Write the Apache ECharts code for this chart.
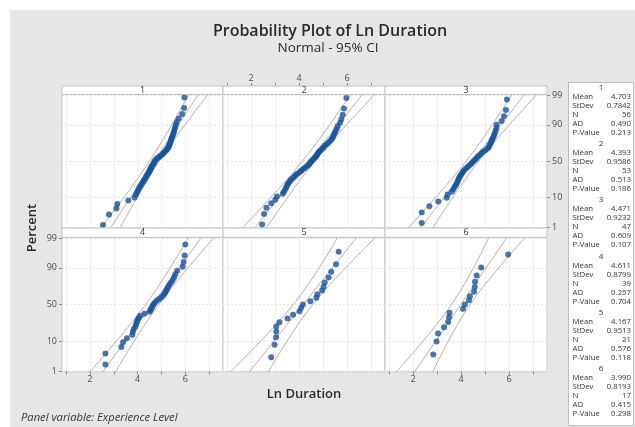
<!DOCTYPE html>
<html><head><meta charset="utf-8">
<script src="https://cdn.jsdelivr.net/npm/echarts@6/dist/echarts.min.js"></script>
<style>
html,body{margin:0;padding:0;background:#fff;}
#c{width:635px;height:427px;background:linear-gradient(#fff,#fff) 0 0/100% 10px no-repeat,linear-gradient(#fff,#fff) 0 0/10px 100% no-repeat,#e6e6e6;}
</style></head><body><div id="c"></div>
<script>
// ---- data ----
const panels = ['1','2','3','4','5','6'];
const means = [4.703, 4.393, 4.471, 4.611, 4.167, 3.990];
const stdevs = [0.7842, 0.9586, 0.9232, 0.8799, 0.9513, 0.8193];
const ns = [56, 53, 47, 39, 21, 17];
const ads = [0.490, 0.513, 0.609, 0.257, 0.576, 0.415];
const pvalues = [0.213, 0.186, 0.107, 0.704, 0.118, 0.298];

const lnDur1 = [2.55,2.80,3.11,3.15,3.61,3.87,3.93,3.97,4.02,4.06,4.11,4.16,4.20,4.25,4.29,4.33,4.36,4.40,4.44,4.47,4.50,4.53,4.55,4.58,4.61,4.64,4.68,4.70,4.73,4.79,4.83,4.91,4.98,5.04,5.09,5.15,5.20,5.24,5.29,5.31,5.34,5.36,5.39,5.41,5.43,5.46,5.49,5.52,5.54,5.57,5.60,5.64,5.72,5.87,5.95,5.96];
const lnDur2 = [2.46,2.54,2.64,2.84,3.01,3.08,3.32,3.37,3.43,3.47,3.51,3.55,3.61,3.66,3.73,3.80,3.86,3.93,4.02,4.09,4.16,4.23,4.32,4.37,4.43,4.47,4.51,4.57,4.62,4.68,4.72,4.75,4.79,4.83,4.90,4.96,5.02,5.08,5.15,5.22,5.29,5.36,5.40,5.44,5.48,5.52,5.57,5.61,5.71,5.76,5.82,5.87,5.97];
const lnDur3 = [2.36,2.36,2.68,3.05,3.40,3.44,3.61,3.68,3.73,3.79,3.83,3.87,3.90,3.94,3.98,4.03,4.07,4.12,4.19,4.26,4.33,4.40,4.46,4.51,4.58,4.64,4.69,4.76,4.83,4.90,5.00,5.09,5.15,5.18,5.22,5.26,5.29,5.33,5.37,5.40,5.44,5.47,5.48,5.69,5.79,5.87,5.91];
const lnDur4 = [2.65,2.65,3.32,3.39,3.55,3.78,3.80,3.84,3.91,3.94,3.97,4.00,4.05,4.11,4.29,4.50,4.54,4.58,4.62,4.66,4.72,4.80,4.91,5.00,5.08,5.14,5.19,5.23,5.28,5.33,5.40,5.47,5.53,5.58,5.66,5.89,5.93,5.97,6.00];
const lnDur5 = [2.84,2.98,3.04,3.05,3.05,3.18,3.52,3.75,4.02,4.09,4.16,4.47,4.72,4.76,4.96,5.02,5.07,5.23,5.34,5.54,5.65];
const lnDur6 = [2.84,2.98,3.04,3.29,3.46,3.50,3.52,4.08,4.16,4.33,4.37,4.54,4.57,4.58,4.65,4.84,5.96];

const percentTicks = [1, 10, 50, 90, 99];
const xTickLabels = [2, 4, 6];

const titleText = 'Probability Plot of Ln Duration';
const subtitleText = 'Normal - 95% CI';
const xTitle = 'Ln Duration';
const yTitle = 'Percent';
const panelNote = 'Panel variable: Experience Level';

// ---- helpers ----
function qnorm(p){
  const a=[-3.969683028665376e+01,2.209460984245205e+02,-2.759285104469687e+02,1.383577518672690e+02,-3.066479806614716e+01,2.506628277459239e+00];
  const b=[-5.447609879822406e+01,1.615858368580409e+02,-1.556989798598866e+02,6.680131188771972e+01,-1.328068155288572e+01];
  const c=[-7.784894002430293e-03,-3.223964580411365e-01,-2.400758277161838e+00,-2.549732539343734e+00,4.374664141464968e+00,2.938163982698783e+00];
  const d=[7.784695709041462e-03,3.224671290700398e-01,2.445134137142996e+00,3.754408661907416e+00];
  const pl=0.02425, ph=1-pl; let q,r;
  if(p<pl){q=Math.sqrt(-2*Math.log(p));return (((((c[0]*q+c[1])*q+c[2])*q+c[3])*q+c[4])*q+c[5])/((((d[0]*q+d[1])*q+d[2])*q+d[3])*q+1);}
  if(p<=ph){q=p-0.5;r=q*q;return (((((a[0]*r+a[1])*r+a[2])*r+a[3])*r+a[4])*r+a[5])*q/(((((b[0]*r+b[1])*r+b[2])*r+b[3])*r+b[4])*r+1);}
  q=Math.sqrt(-2*Math.log(1-p));return -(((((c[0]*q+c[1])*q+c[2])*q+c[3])*q+c[4])*q+c[5])/((((d[0]*q+d[1])*q+d[2])*q+d[3])*q+1);
}
const zTicks = percentTicks.map(p => qnorm(p/100));
function pctLabel(v){ for(let i=0;i<zTicks.length;i++){ if(Math.abs(zTicks[i]-v)<1e-6) return String(percentTicks[i]); } return ''; }

const data = [lnDur1, lnDur2, lnDur3, lnDur4, lnDur5, lnDur6];
const colLeft = [62, 223, 385], colW = [161, 162, 162];
const rowTop = [94.5, 237.3], rowH = [133.5, 134.4];
const stripTop = [86, 228], stripH = [8.5, 9.3];
const ptColor = '#18549b', lineColor = '#c0aaa6';
const FONT = '"Open Sans","Noto Sans",sans-serif';

const grids = [], xAxes = [], yAxes = [], series = [], graphics = [];
panels.forEach((name, k) => {
  const col = k % 3, row = Math.floor(k / 3);
  grids.push({left: colLeft[col], top: rowTop[row], width: colW[col], height: rowH[row],
    show: true, backgroundColor: '#fff', borderColor: '#c2c2c2', borderWidth: 1});
  const showX = (k === 1 || k === 3 || k === 5);
  xAxes.push({type: 'value', gridIndex: k, min: 0.83, max: 7.58, minInterval: 1, maxInterval: 1,
    position: k === 1 ? 'top' : 'bottom', offset: k === 1 ? 8.5 : 0,
    axisLine: {show: false, onZero: false},
    axisTick: {show: showX, length: 3, lineStyle: {color: '#8a8a8a'}},
    axisLabel: {show: showX, fontSize: 9, color: '#4a4a4a', fontFamily: FONT, margin: 3,
      showMinLabel: false, showMaxLabel: false,
      formatter: v => xTickLabels.indexOf(v) >= 0 ? String(v) : ''},
    splitLine: {show: true, lineStyle: {color: '#e4e4e4', type: [2, 2], width: 1}}});
  const showY = (k === 2 || k === 3);
  yAxes.push({type: 'value', gridIndex: k, min: -2.35, max: 2.35,
    position: k === 2 ? 'right' : 'left',
    axisLine: {show: false, onZero: false},
    axisTick: {show: showY, length: 3, customValues: zTicks, lineStyle: {color: '#8a8a8a'}},
    axisLabel: {show: showY, customValues: zTicks, formatter: pctLabel, fontSize: 9, color: '#4a4a4a', fontFamily: FONT, margin: 5},
    splitLine: {show: true, lineStyle: {color: '#e4e4e4', type: [2, 2], width: 1}}});

  const vals = data[k], n = vals.length;
  const pts = vals.map((v, i) => [v, qnorm((i + 1 - 0.3) / (n + 0.4))]);
  const mu = means[k], sd = stdevs[k], N = ns[k];
  const fit = [], lo = [], hi = [];
  for (let j = 0; j <= 108; j++) {
    const z = -2.7 + j * 0.05;
    const xp = mu + z * sd;
    const hw = 1.959964 * sd * Math.sqrt(1 / N + z * z / (2 * N));
    fit.push([xp, z]); lo.push([xp - hw, z]); hi.push([xp + hw, z]);
  }
  [lo, fit, hi].forEach(d => series.push({type: 'line', xAxisIndex: k, yAxisIndex: k, data: d,
    showSymbol: false, symbol: 'none', silent: true, clip: true, z: 2,
    lineStyle: {color: lineColor, width: 1}}));
  series.push({type: 'scatter', name: name, xAxisIndex: k, yAxisIndex: k, data: pts,
    symbol: 'circle', symbolSize: 6, z: 5, itemStyle: {color: ptColor}});

  // panel strip
  graphics.push({type: 'rect', z: 10, shape: {x: colLeft[col], y: stripTop[row], width: colW[col], height: stripH[row]},
    style: {fill: '#fff', stroke: '#c2c2c2', lineWidth: 1}});
  graphics.push({type: 'text', z: 11, x: colLeft[col] + colW[col] / 2, y: stripTop[row] + stripH[row] / 2,
    style: {text: name, fontSize: 9, fontFamily: FONT, fill: '#333', align: 'center', verticalAlign: 'middle', textAlign: 'center', textVerticalAlign: 'middle'}});
});

// axis titles & note
function txt(x, y, s, size, weight, extra) {
  return Object.assign({type: 'text', z: 12, x: x, y: y,
    style: {text: s, fontSize: size, fontWeight: weight, fontFamily: FONT, fill: '#2b2b2b',
      align: 'center', verticalAlign: 'middle', textAlign: 'center', textVerticalAlign: 'middle'}}, extra || {});
}
graphics.push(txt(304, 394, xTitle, 13, 600));
graphics.push(txt(32, 228, yTitle, 13, 600, {rotation: Math.PI / 2}));
const note = txt(21, 418, panelNote, 11.2, 'normal');
note.style.align = 'left'; note.style.textAlign = 'left'; note.style.fontStyle = 'italic'; note.style.fill = '#333';
graphics.push(note);

// statistics box
graphics.push({type: 'rect', z: 10, shape: {x: 568.5, y: 82.5, width: 65, height: 343},
  style: {fill: '#fff', stroke: '#bdbdbd', lineWidth: 1}});
const statNames = ['Mean', 'StDev', 'N', 'AD', 'P-Value'];
panels.forEach((name, k) => {
  const h = 88 + k * 56.1;
  const vals = [means[k].toFixed(3), stdevs[k].toFixed(4), String(ns[k]), ads[k].toFixed(3), pvalues[k].toFixed(3)];
  graphics.push({type: 'text', z: 11, x: 601, y: h,
    style: {text: name, fontSize: 8, fontFamily: FONT, fill: '#333', align: 'center', verticalAlign: 'middle', textAlign: 'center', textVerticalAlign: 'middle'}});
  statNames.forEach((s, j) => {
    const y = h + 9 * (j + 1);
    graphics.push({type: 'text', z: 11, x: 572.5, y: y,
      style: {text: s, fontSize: 7.8, fontFamily: FONT, fill: '#333', align: 'left', verticalAlign: 'middle', textAlign: 'left', textVerticalAlign: 'middle'}});
    graphics.push({type: 'text', z: 11, x: 631, y: y,
      style: {text: vals[j], fontSize: 7.8, fontFamily: FONT, fill: '#333', align: 'right', verticalAlign: 'middle', textAlign: 'right', textVerticalAlign: 'middle'}});
  });
});

const chart = echarts.init(document.getElementById('c'));
chart.setOption({
  animation: false,
  backgroundColor: 'transparent',
  title: [
    {text: titleText, left: 330, top: 23.5, textAlign: 'center', padding: 0,
      textStyle: {fontSize: 16, fontWeight: 600, color: '#2b2b2b', fontFamily: FONT}},
    {text: subtitleText, left: 328, top: 41, textAlign: 'center', padding: 0,
      textStyle: {fontSize: 13.5, fontWeight: 'normal', color: '#2b2b2b', fontFamily: FONT}}
  ],
  grid: grids, xAxis: xAxes, yAxis: yAxes, series: series,
  graphic: {elements: graphics}
});
</script></body></html>
